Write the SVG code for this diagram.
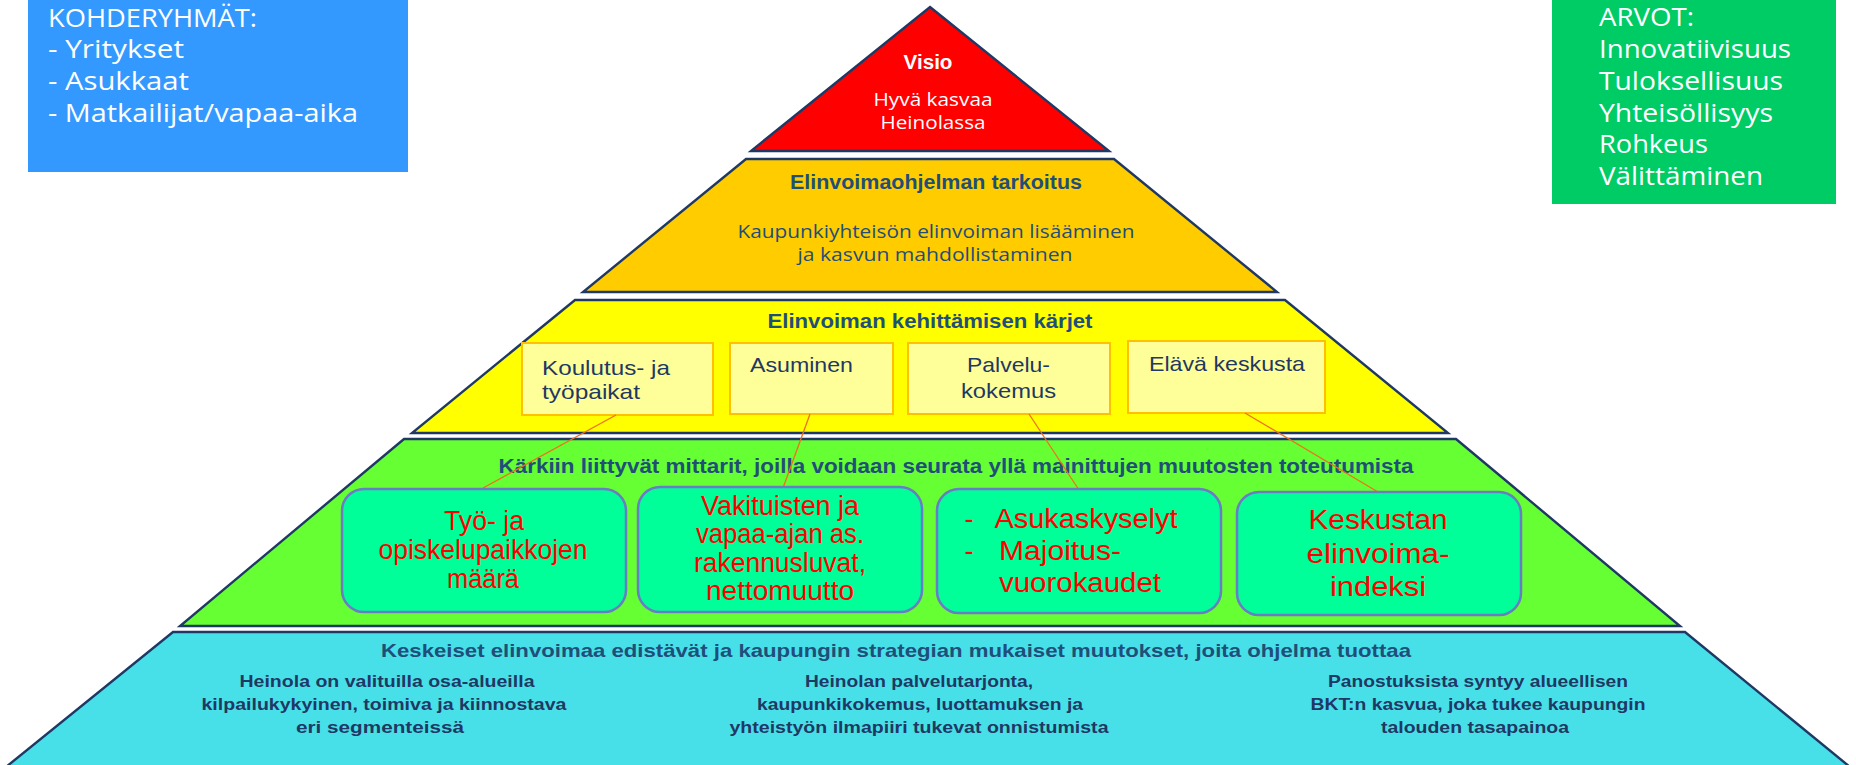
<svg xmlns="http://www.w3.org/2000/svg" width="1856" height="765" viewBox="0 0 1856 765">
<defs>
<style>
.lvl{stroke:#1F3864;stroke-width:2.4;stroke-linejoin:miter}
.wt{font-family:"Open Sans","Liberation Sans",sans-serif;font-size:25px;fill:#FFFFFF}
.nb{font-family:"Liberation Sans",Arial,sans-serif;font-weight:bold;fill:#1F4E79}
.nr{font-family:"Open Sans","Liberation Sans",sans-serif;fill:#1F4E79}
.kb{fill:#FFFF99;stroke:#FFC000;stroke-width:2}
.kt{font-family:"Liberation Sans",Arial,sans-serif;font-size:21px;fill:#1F3864}
.mb{fill:#00FF99;stroke:#6A7CC4;stroke-width:2.5}
.mt{font-family:"Liberation Sans",Arial,sans-serif;font-size:27px;fill:#FF0000;text-anchor:middle}
.ct{font-family:"Liberation Sans",Arial,sans-serif;font-weight:bold;font-size:17px;fill:#1F3864;text-anchor:middle}
.con{stroke:#F07020;stroke-width:1.3;fill:none}
</style>
</defs>

<g id="target-groups">
<rect x="28" y="-2" width="380" height="174" fill="#3399FF"/>
<text class="wt" x="48" y="27" textLength="209" lengthAdjust="spacingAndGlyphs">KOHDERYHMÄT:</text>
<text class="wt" x="48" y="58" textLength="136" lengthAdjust="spacingAndGlyphs">- Yritykset</text>
<text class="wt" x="48" y="90" textLength="141" lengthAdjust="spacingAndGlyphs">- Asukkaat</text>
<text class="wt" x="48" y="122" textLength="310" lengthAdjust="spacingAndGlyphs">- Matkailijat/vapaa-aika</text>
</g>

<g id="values">
<rect x="1552" y="-2" width="284" height="206" fill="#00CC66"/>
<text class="wt" x="1599" y="26" textLength="95" lengthAdjust="spacingAndGlyphs">ARVOT:</text>
<text class="wt" x="1599" y="58" textLength="192" lengthAdjust="spacingAndGlyphs">Innovatiivisuus</text>
<text class="wt" x="1599" y="90" textLength="184" lengthAdjust="spacingAndGlyphs">Tuloksellisuus</text>
<text class="wt" x="1599" y="122" textLength="174" lengthAdjust="spacingAndGlyphs">Yhteisöllisyys</text>
<text class="wt" x="1599" y="153" textLength="109" lengthAdjust="spacingAndGlyphs">Rohkeus</text>
<text class="wt" x="1599" y="185" textLength="164" lengthAdjust="spacingAndGlyphs">Välittäminen</text>
</g>

<g id="level-visio">
<polygon class="lvl" points="930,7 1109,151 751,151" fill="#FF0000"/>
<text x="928" y="69" font-family="Liberation Sans, Arial, sans-serif" font-weight="bold" font-size="20" fill="#FFFFFF" text-anchor="middle" textLength="49" lengthAdjust="spacingAndGlyphs">Visio</text>
<text x="933" y="106" font-family="Open Sans, Liberation Sans, sans-serif" font-size="17.5" fill="#FFFFFF" text-anchor="middle" textLength="119" lengthAdjust="spacingAndGlyphs">Hyvä kasvaa</text>
<text x="933" y="129" font-family="Open Sans, Liberation Sans, sans-serif" font-size="17.5" fill="#FFFFFF" text-anchor="middle" textLength="105" lengthAdjust="spacingAndGlyphs">Heinolassa</text>
</g>

<g id="level-purpose">
<polygon class="lvl" points="746,159 1114,159 1277,292 583,292" fill="#FFCC00"/>
<text class="nb" x="936" y="189" font-size="20" text-anchor="middle" textLength="292" lengthAdjust="spacingAndGlyphs">Elinvoimaohjelman tarkoitus</text>
<text class="nr" x="936" y="238" font-size="17.5" text-anchor="middle" textLength="397" lengthAdjust="spacingAndGlyphs">Kaupunkiyhteisön elinvoiman lisääminen</text>
<text class="nr" x="935" y="261" font-size="17.5" text-anchor="middle" textLength="275" lengthAdjust="spacingAndGlyphs">ja kasvun mahdollistaminen</text>
</g>

<g id="level-spearheads">
<polygon class="lvl" points="575,300 1285,300 1448,433 412,433" fill="#FFFF00"/>
<text class="nb" x="930" y="328" font-size="20" text-anchor="middle" textLength="325" lengthAdjust="spacingAndGlyphs" fill="#1F3864">Elinvoiman kehittämisen kärjet</text>
</g>

<g id="spearhead-1">
<rect class="kb" x="522" y="343" width="191" height="72"/>
<text class="kt" x="542" y="375" textLength="128" lengthAdjust="spacingAndGlyphs">Koulutus- ja</text>
<text class="kt" x="542" y="399" textLength="98" lengthAdjust="spacingAndGlyphs">työpaikat</text>
</g>
<g id="spearhead-2">
<rect class="kb" x="730" y="343" width="163" height="71"/>
<text class="kt" x="750" y="372" textLength="103" lengthAdjust="spacingAndGlyphs">Asuminen</text>
</g>
<g id="spearhead-3">
<rect class="kb" x="908" y="343" width="202" height="71"/>
<text class="kt" x="967" y="372" textLength="83" lengthAdjust="spacingAndGlyphs">Palvelu-</text>
<text class="kt" x="961" y="398" textLength="95" lengthAdjust="spacingAndGlyphs">kokemus</text>
</g>
<g id="spearhead-4">
<rect class="kb" x="1128" y="341" width="197" height="72"/>
<text class="kt" x="1149" y="371" textLength="156" lengthAdjust="spacingAndGlyphs">Elävä keskusta</text>
</g>

<g id="level-metrics">
<polygon class="lvl" points="404,439 1456,439 1680,626 180,626" fill="#66FF33"/>
<text class="nb" x="956" y="473" font-size="20" text-anchor="middle" textLength="915" lengthAdjust="spacingAndGlyphs">Kärkiin liittyvät mittarit, joilla voidaan seurata yllä mainittujen muutosten toteutumista</text>
</g>

<g id="connectors">
<line class="con" x1="616" y1="415" x2="483" y2="488"/>
<line class="con" x1="810" y1="414" x2="783" y2="488"/>
<line class="con" x1="1029" y1="414" x2="1079" y2="490"/>
<line class="con" x1="1245" y1="413" x2="1378" y2="492"/>
</g>

<g id="metric-1">
<rect class="mb" x="342" y="489" width="284" height="123" rx="22"/>
<text class="mt" x="484" y="530" textLength="80" lengthAdjust="spacingAndGlyphs">Työ- ja</text>
<text class="mt" x="483" y="559" textLength="209" lengthAdjust="spacingAndGlyphs">opiskelupaikkojen</text>
<text class="mt" x="483" y="588" textLength="72" lengthAdjust="spacingAndGlyphs">määrä</text>
</g>
<g id="metric-2">
<rect class="mb" x="638" y="487" width="284" height="125" rx="22"/>
<text class="mt" x="780" y="515" textLength="158" lengthAdjust="spacingAndGlyphs">Vakituisten ja</text>
<text class="mt" x="780" y="543" textLength="168" lengthAdjust="spacingAndGlyphs">vapaa-ajan as.</text>
<text class="mt" x="780" y="572" textLength="172" lengthAdjust="spacingAndGlyphs">rakennusluvat,</text>
<text class="mt" x="780" y="600" textLength="148" lengthAdjust="spacingAndGlyphs">nettomuutto</text>
</g>
<g id="metric-3">
<rect class="mb" x="937" y="489" width="284" height="124" rx="22"/>
<text class="mt" x="969" y="528">-</text>
<text class="mt" x="1086" y="528" textLength="183" lengthAdjust="spacingAndGlyphs">Asukaskyselyt</text>
<text class="mt" x="969" y="560">-</text>
<text class="mt" x="1060" y="560" textLength="122" lengthAdjust="spacingAndGlyphs">Majoitus-</text>
<text class="mt" x="1080" y="592" textLength="162" lengthAdjust="spacingAndGlyphs">vuorokaudet</text>
</g>
<g id="metric-4">
<rect class="mb" x="1237" y="492" width="284" height="123" rx="22"/>
<text class="mt" x="1378" y="529" textLength="139" lengthAdjust="spacingAndGlyphs">Keskustan</text>
<text class="mt" x="1378" y="563" textLength="143" lengthAdjust="spacingAndGlyphs">elinvoima-</text>
<text class="mt" x="1378" y="596" textLength="96" lengthAdjust="spacingAndGlyphs">indeksi</text>
</g>

<g id="level-changes">
<polygon class="lvl" points="173,632 1685,632 1850,767 6,767" fill="#48E0E8"/>
<text class="nb" x="896" y="657" font-size="19" text-anchor="middle" textLength="1030" lengthAdjust="spacingAndGlyphs" fill="#1F3864">Keskeiset elinvoimaa edistävät ja kaupungin strategian mukaiset muutokset, joita ohjelma tuottaa</text>
<text class="ct" x="387" y="687" textLength="295" lengthAdjust="spacingAndGlyphs">Heinola on valituilla osa-alueilla</text>
<text class="ct" x="384" y="710" textLength="365" lengthAdjust="spacingAndGlyphs">kilpailukykyinen, toimiva ja kiinnostava</text>
<text class="ct" x="380" y="733" textLength="168" lengthAdjust="spacingAndGlyphs">eri segmenteissä</text>
<text class="ct" x="919" y="687" textLength="228" lengthAdjust="spacingAndGlyphs">Heinolan palvelutarjonta,</text>
<text class="ct" x="920" y="710" textLength="326" lengthAdjust="spacingAndGlyphs">kaupunkikokemus, luottamuksen ja</text>
<text class="ct" x="919" y="733" textLength="379" lengthAdjust="spacingAndGlyphs">yhteistyön ilmapiiri tukevat onnistumista</text>
<text class="ct" x="1478" y="687" textLength="300" lengthAdjust="spacingAndGlyphs">Panostuksista syntyy alueellisen</text>
<text class="ct" x="1478" y="710" textLength="335" lengthAdjust="spacingAndGlyphs">BKT:n kasvua, joka tukee kaupungin</text>
<text class="ct" x="1475" y="733" textLength="188" lengthAdjust="spacingAndGlyphs">talouden tasapainoa</text>
</g>
</svg>
